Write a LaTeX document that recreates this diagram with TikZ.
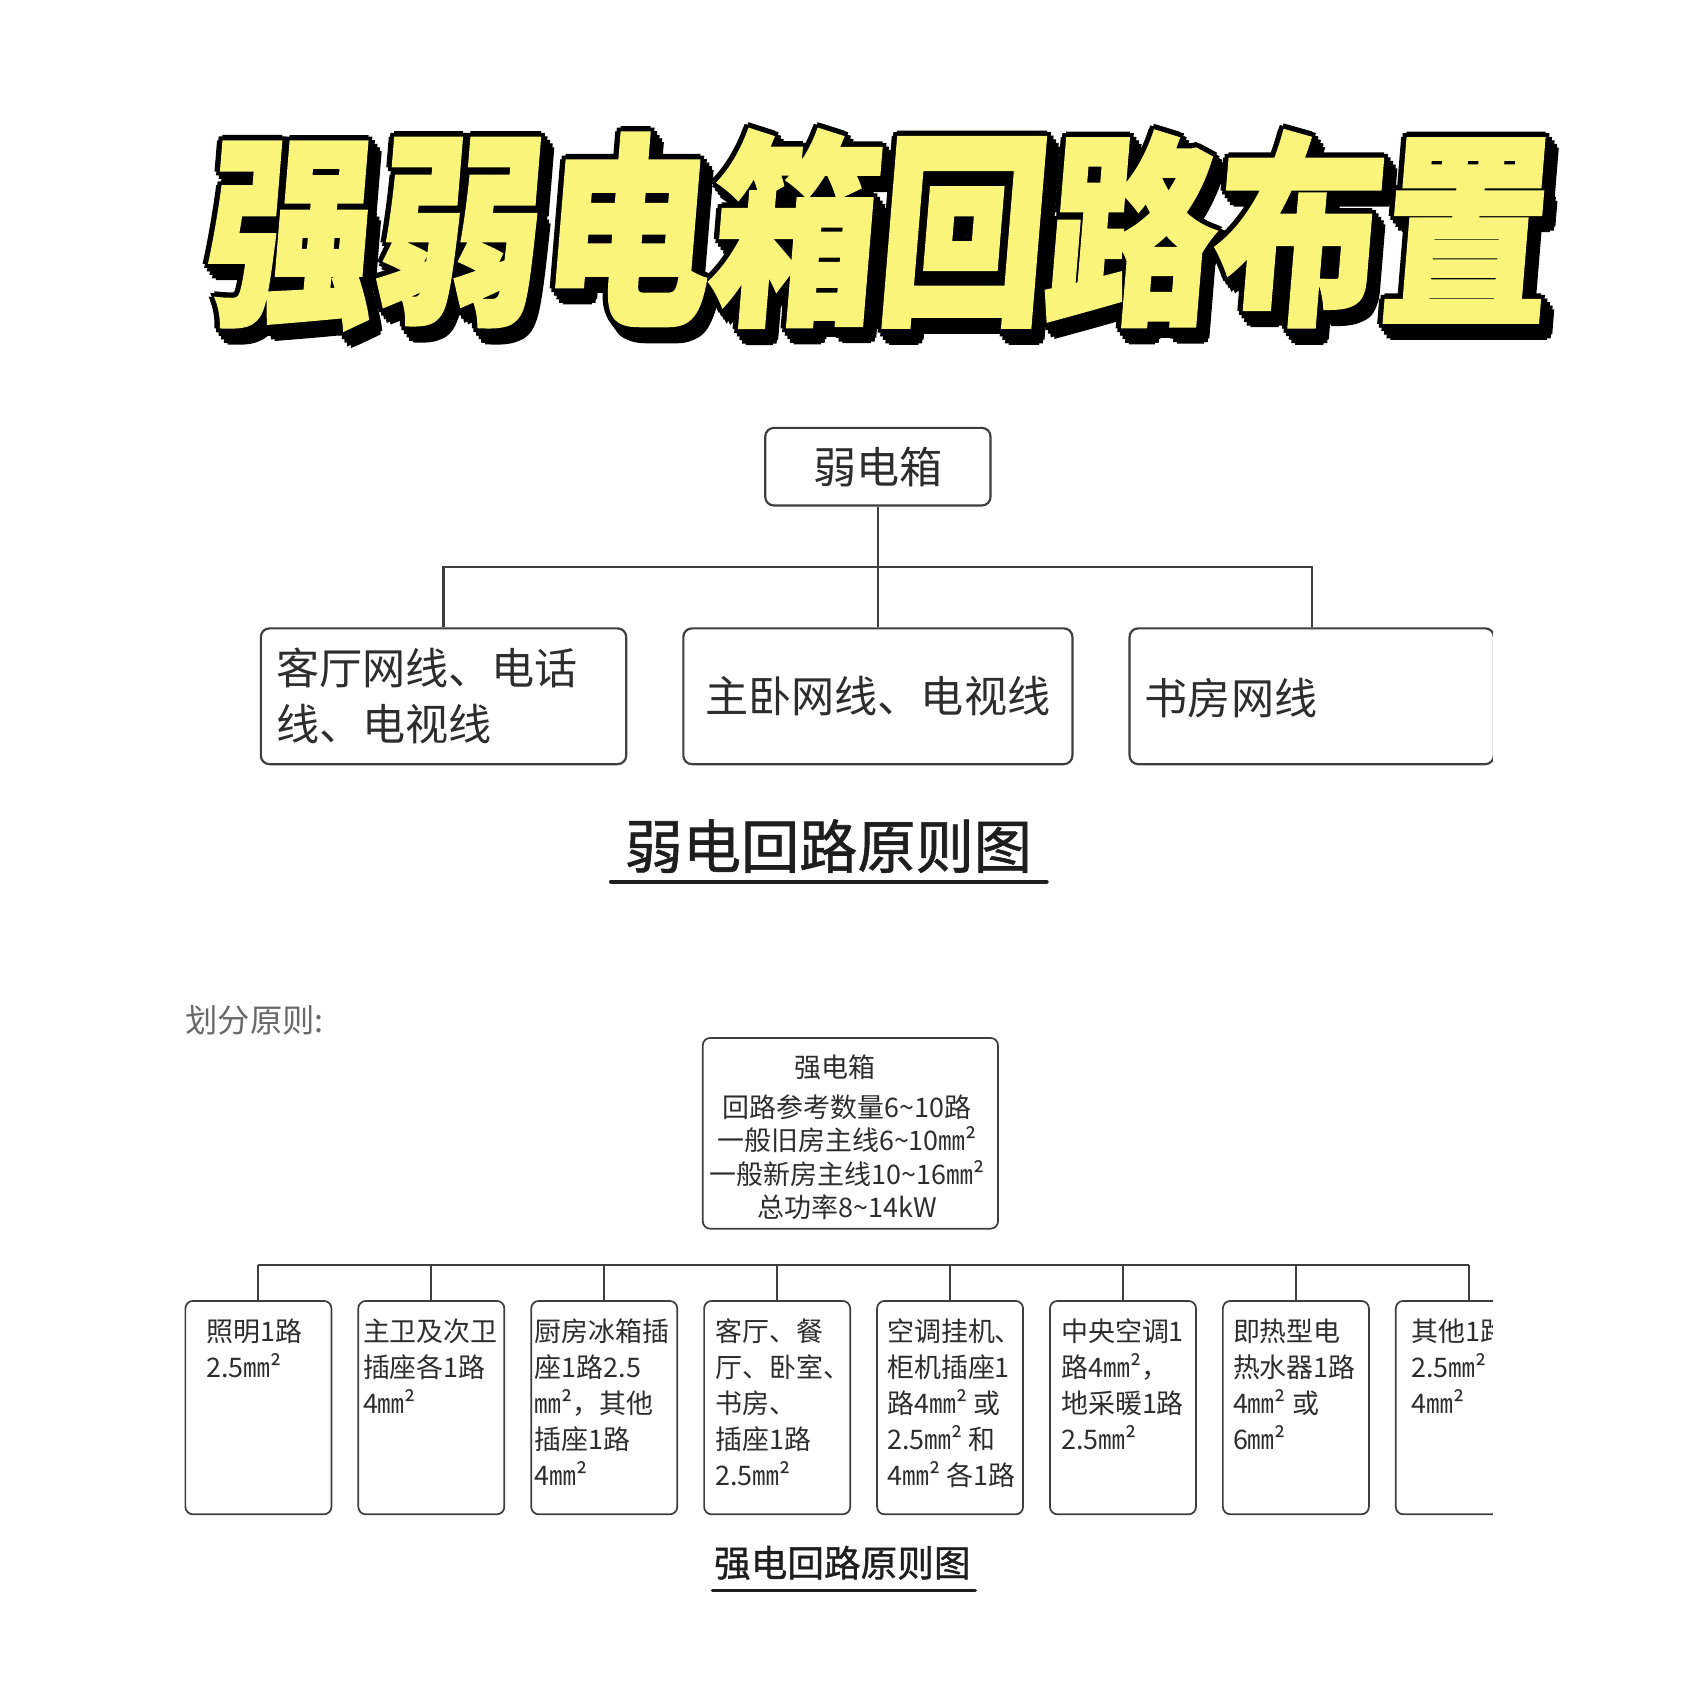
\documentclass[tikz,border=0pt]{standalone}
\usepackage{fontspec}
\setmainfont{Noto Sans CJK SC}
\newfontfamily\titlefont{Noto Sans CJK SC}[FakeSlant=0.1,FakeBold=2.2]
\newfontfamily\capfont{Noto Sans CJK SC}[FakeBold=1]
\usetikzlibrary{calc}

\definecolor{ttlyellow}{RGB}{250,245,122}
\definecolor{lncol}{RGB}{62,62,62}
\definecolor{txtcol}{RGB}{45,45,45}
\definecolor{capcol}{RGB}{30,30,30}
\definecolor{notecol}{RGB}{105,105,105}

\newcommand{\ttlstr}{\scalebox{0.82}[1]{强弱电箱回路布置}}

\begin{document}
\begin{tikzpicture}[x=1pt, y=-1pt,
  ttltext/.style={font=\titlefont\bfseries\fontsize{190}{190}\selectfont, inner sep=0},
  wkbox/.style={rectangle, draw=lncol, line width=2pt, rounded corners=8pt, fill=white, text=txtcol, font=\fontsize{40}{52}\selectfont},
  wktext/.style={text=txtcol, font=\fontsize{40}{52}\selectfont, align=left, inner sep=0},
  stbox/.style={rectangle, draw=lncol, line width=1.6pt, rounded corners=7pt},
  sttext/.style={text=txtcol, font=\fontsize{25}{33.5}\selectfont, inner sep=0},
  conn/.style={draw=lncol, line width=2pt},
  captext/.style={text=capcol, inner sep=0},
  uline/.style={draw=capcol, line cap=round}
]
\useasboundingbox (0,0) rectangle (1568,1568);

% title with outline and shadow
\coordinate (ttl) at (811,213);
\foreach \s in {3,6,9}
  \foreach \a in {0,45,...,315}
    \node (ttls\s-\a) [ttltext, text=black] at ($(ttl)+(0.8*\s,1.1*\s)+(\a:5)$) {\ttlstr};
\foreach \a in {0,45,...,315}
  \node (ttlo\a) [ttltext, text=black] at ($(ttl)+(\a:5)$) {\ttlstr};
\node (ttlN) [ttltext, text=ttlyellow] at (ttl) {\ttlstr};

% weak box
\begin{scope}
\clip (0,380) rectangle (1385,1568);
\coordinate (wk) at (814.5,433);
\coordinate (wbus) at ($(wk) + (0,93)$);

\node (wbox) [wkbox, minimum width=209pt, minimum height=72pt] at (wk) {弱电箱};
\node (w1) [wkbox, minimum width=339pt, minimum height=126pt] at (411.5,646) {};
\node (w2) [wkbox, minimum width=361pt, minimum height=126pt] at (814.5,646) {主卧网线、电视线};
\node (w3) [wkbox, minimum width=338pt, minimum height=126pt] at (1217,646) {};

\node (w1t) [wktext, anchor=west] at ($(w1.west)+(15,0)$) {客厅网线、电话\\线、电视线};
\node (w3t) [wktext, anchor=west] at ($(w3.west)+(15,2)$) {书房网线};

\draw [conn] (wbox.south) -- (w2.north);
\draw [conn] (w1.north) -- (w1.north |- wbus) -- (w3.north |- wbus) -- (w3.north);
\end{scope}

\node (wcap) [captext, font=\capfont\fontsize{54}{54}\selectfont] at (768.5,785) {弱电回路原则图};
\coordinate (wul) at (567,818);
\coordinate (wur) at (971,818);
\draw [uline, line width=4pt] (wul) -- (wur);

% strong box
\node (note) [captext, text=notecol, anchor=west, font=\fontsize{30}{30}\selectfont] at (172,947) {划分原则:};

\begin{scope}
\clip (0,900) rectangle (1385,1568);
\node (sbox) [stbox, minimum width=274pt, minimum height=177pt] at (789,1051.5) {};
\node (sboxt) [sttext, align=center, font=\fontsize{25}{31}\selectfont] at (786,1055)
  {强电箱\hspace*{22pt}\\[6pt]回路参考数量6\textasciitilde10路\\一般旧房主线6\textasciitilde10㎜²\\一般新房主线10\textasciitilde16㎜²\\总功率8\textasciitilde14kW};

\coordinate (sbus) at (789,1174);

\foreach \i/\dx/\txt in {
  1/20/{照明1路\\2.5㎜²},
  2/5/{主卫及次卫\\插座各1路\\4㎜²},
  3/4/{厨房冰箱插\\座1路2.5\\㎜²，其他\\插座1路\\4㎜²},
  4/11/{客厅、餐\\厅、卧室、\\书房、\\插座1路\\2.5㎜²},
  5/10/{空调挂机、\\柜机插座1\\路4㎜² 或\\2.5㎜² 和\\4㎜² 各1路},
  6/11/{中央空调1\\路4㎜²，\\地采暖1路\\2.5㎜²},
  7/10/{即热型电\\热水器1路\\4㎜² 或\\6㎜²},
  8/15/{其他1路\\2.5㎜²\\4㎜²}}
{
  \node (b\i) [stbox, minimum width=135.5pt, minimum height=198pt] at ({239.75+160.43*(\i-1)},1306) {};
  \node (b\i t) [sttext, align=left, anchor=north west] at ($(b\i.north west)+(\dx,17)$) {\txt};
  \draw [conn] (b\i.north) -- (b\i.north |- sbus);
}
\draw [conn] (b1.north |- sbus) -- (b8.north |- sbus);
\end{scope}

\node (scap) [captext, font=\capfont\fontsize{34}{34}\selectfont] at (781.5,1450) {强电回路原则图};
\coordinate (sul) at (661,1476);
\coordinate (sur) at (905,1476);
\draw [uline, line width=3pt] (sul) -- (sur);

\end{tikzpicture}
\end{document}
